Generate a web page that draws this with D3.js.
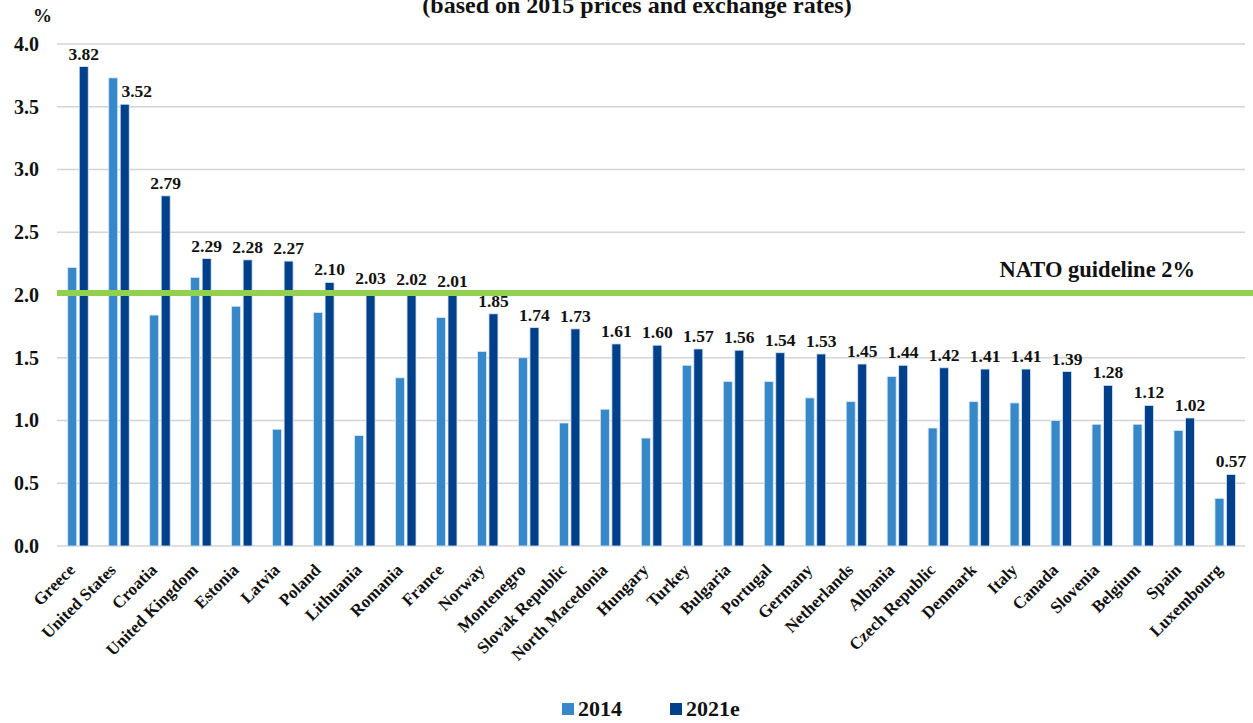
<!DOCTYPE html>
<html>
<head>
<meta charset="utf-8">
<script src="https://cdn.jsdelivr.net/npm/d3@7"></script>
<style>
  body { margin: 0; background: #fff; }
  text { font-family: "Liberation Serif", "DejaVu Serif", serif; font-weight: bold; fill: #111; }
</style>
</head>
<body>
<div id="chart"></div>
<script>
const countries = ["Greece", "United States", "Croatia", "United Kingdom", "Estonia", "Latvia", "Poland",
  "Lithuania", "Romania", "France", "Norway", "Montenegro", "Slovak Republic", "North Macedonia", "Hungary",
  "Turkey", "Bulgaria", "Portugal", "Germany", "Netherlands", "Albania", "Czech Republic", "Denmark", "Italy",
  "Canada", "Slovenia", "Belgium", "Spain", "Luxembourg"];
const values2014 = [2.22, 3.73, 1.84, 2.14, 1.91, 0.93, 1.86, 0.88, 1.34, 1.82, 1.55, 1.50, 0.98, 1.09, 0.86,
  1.44, 1.31, 1.31, 1.18, 1.15, 1.35, 0.94, 1.15, 1.14, 1.00, 0.97, 0.97, 0.92, 0.38];
const values2021 = [3.82, 3.52, 2.79, 2.29, 2.28, 2.27, 2.10, 2.03, 2.02, 2.01, 1.85, 1.74, 1.73, 1.61, 1.60,
  1.57, 1.56, 1.54, 1.53, 1.45, 1.44, 1.42, 1.41, 1.41, 1.39, 1.28, 1.12, 1.02, 0.57];
const seriesNames = ["2014", "2021e"];
const yTicks = [0, 0.5, 1.0, 1.5, 2.0, 2.5, 3.0, 3.5, 4.0];
const guideline = 2.0;

const width = 1253, height = 723;
const colors = {"2014": "#3688c8", "2021e": "#003f8a"};

const data = countries.map((c, i) => ({country: c, "2014": values2014[i], "2021e": values2021[i]}));

const svg = d3.select("#chart").append("svg")
  .attr("width", width)
  .attr("height", height);

const x = d3.scaleBand()
  .domain(countries)
  .range([57.5, 1245.7]);

const xInner = d3.scaleBand()
  .domain(seriesNames)
  .range([x.bandwidth() * 0.25, x.bandwidth() * 0.75])
  .paddingInner(0.22);

const y = d3.scaleLinear()
  .domain([0, 4])
  .range([546, 44]);

// title (cut off at the top, as in the source)
svg.append("text")
  .attr("x", 637)
  .attr("y", 13)
  .attr("text-anchor", "middle")
  .style("font-size", "24px")
  .text("(based on 2015 prices and exchange rates)");

// gridlines
svg.append("g")
  .selectAll("line")
  .data(yTicks)
  .join("line")
  .attr("x1", 57)
  .attr("x2", 1245)
  .attr("y1", d => y(d))
  .attr("y2", d => y(d))
  .attr("stroke", "#d4d4d4")
  .attr("stroke-width", 1.6);

// y axis
const yAxis = svg.append("g")
  .attr("transform", "translate(39,0)")
  .call(d3.axisLeft(y).tickValues(yTicks).tickFormat(d3.format(".1f")).tickSize(0).tickPadding(0));
yAxis.select(".domain").remove();
yAxis.selectAll("text")
  .style("font-size", "20px")
  .style("font-family", "'Liberation Serif', serif")
  .style("font-weight", "bold")
  .attr("fill", "#111");

svg.append("text")
  .attr("x", 33)
  .attr("y", 22)
  .style("font-size", "19px")
  .text("%");

// bars
const groups = svg.append("g")
  .selectAll("g")
  .data(data)
  .join("g")
  .attr("transform", d => `translate(${x(d.country)},0)`);

groups.selectAll("rect")
  .data(d => seriesNames.map(k => ({key: k, value: d[k]})))
  .join("rect")
  .attr("x", d => xInner(d.key))
  .attr("width", xInner.bandwidth())
  .attr("y", d => y(d.value))
  .attr("height", d => y(0) - y(d.value))
  .attr("fill", d => colors[d.key])
  .attr("stroke", "#d6e6f4")
  .attr("stroke-width", 0.8);

// data labels for 2021e (pushed right when the 2014 bar is taller)
groups.append("text")
  .attr("x", d => xInner("2021e") + xInner.bandwidth() / 2 + (d["2014"] > d["2021e"] ? 12 : 0))
  .attr("y", d => y(d["2021e"]) - 7)
  .attr("text-anchor", "middle")
  .style("font-size", "17.5px")
  .text(d => d3.format(".2f")(d["2021e"]));

// NATO guideline
svg.append("line")
  .attr("x1", 57)
  .attr("x2", width)
  .attr("y1", y(guideline) - 2)
  .attr("y2", y(guideline) - 2)
  .attr("stroke", "#92d050")
  .attr("stroke-width", 6);

svg.append("text")
  .attr("x", 1195)
  .attr("y", 277)
  .attr("text-anchor", "end")
  .style("font-size", "22.5px")
  .text("NATO guideline 2%");

// category labels
svg.append("g")
  .selectAll("text")
  .data(countries)
  .join("text")
  .attr("transform", d => `translate(${x(d) + x.bandwidth() / 2 - 2},571) rotate(-45)`)
  .attr("text-anchor", "end")
  .style("font-size", "17px")
  .text(d => d);

// legend
const legend = svg.append("g")
  .attr("transform", "translate(562,716)");
const legendItems = legend.selectAll("g")
  .data(seriesNames)
  .join("g")
  .attr("transform", (d, i) => `translate(${i * 108},0)`);
legendItems.append("rect")
  .attr("x", 0)
  .attr("y", -13)
  .attr("width", 12)
  .attr("height", 12)
  .attr("fill", d => colors[d]);
legendItems.append("text")
  .attr("x", 16)
  .attr("y", 0)
  .style("font-size", "22px")
  .text(d => d);
</script>
</body>
</html>
